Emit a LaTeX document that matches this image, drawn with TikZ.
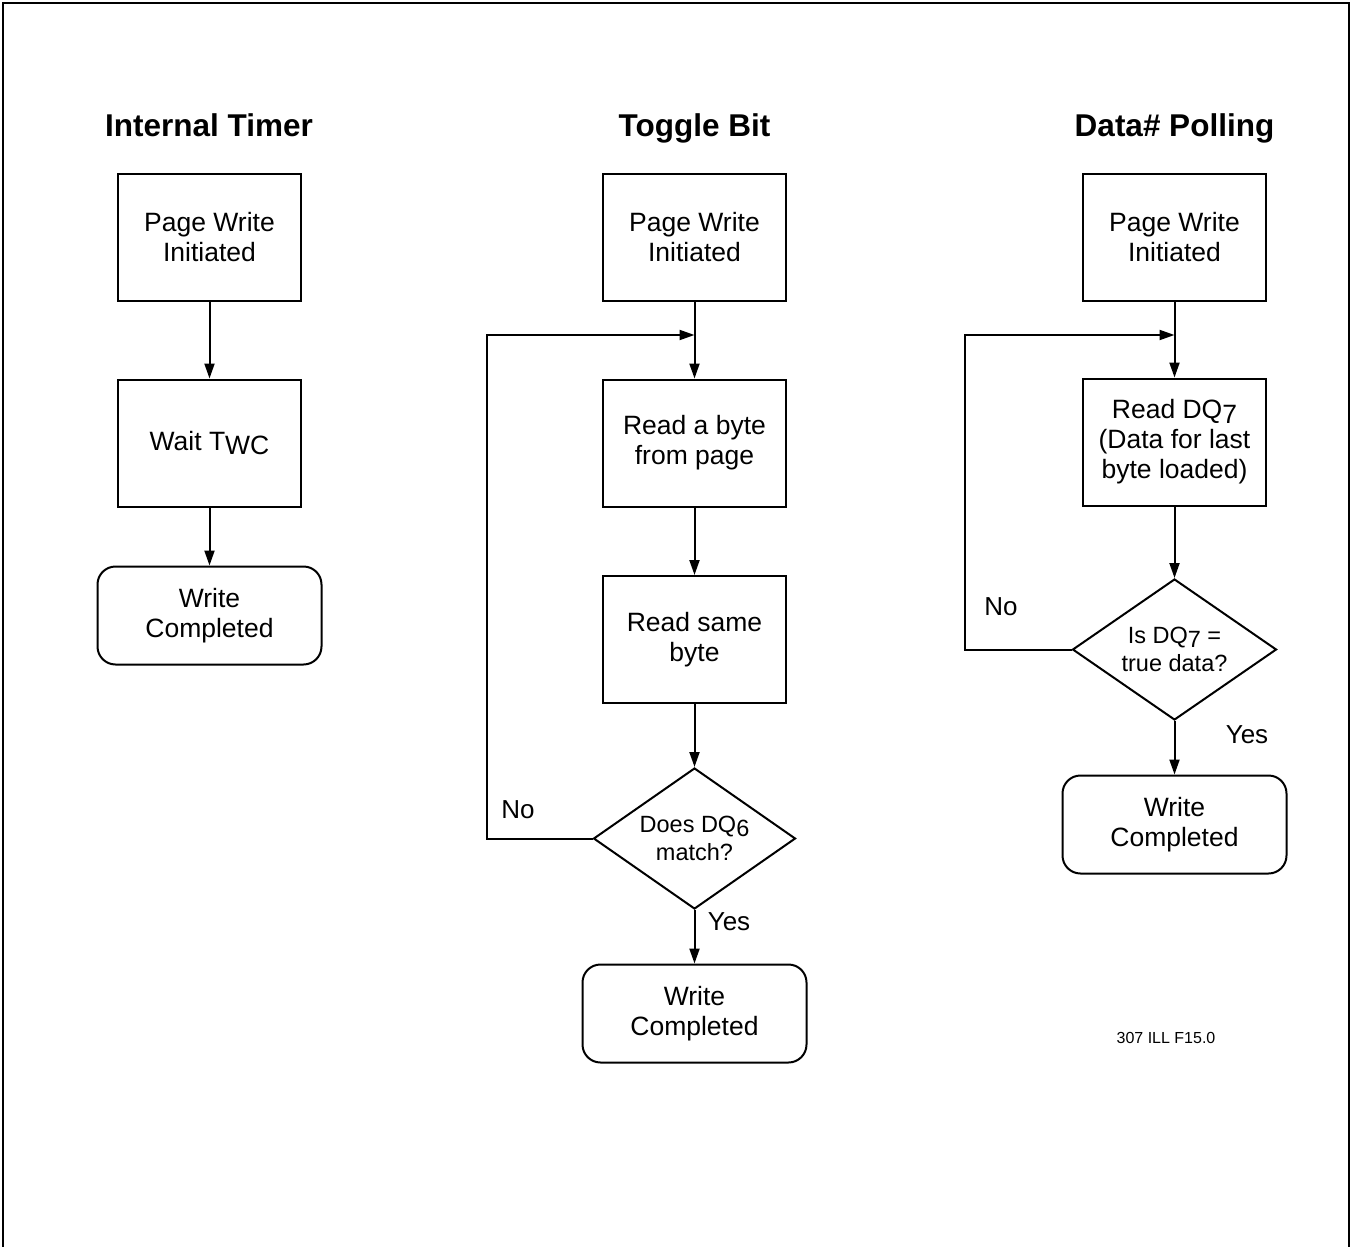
\documentclass[tikz,border=0pt]{standalone}
\usepackage{fontspec}
\setmainfont{Liberation Sans}
\usetikzlibrary{arrows.meta,shapes.geometric}
\begin{document}
\begin{tikzpicture}[x=1pt,y=-1pt,
  every node/.style={font=\fontsize{26.5}{30}\selectfont, align=center},
  stepbox/.style={draw, line width=2pt, minimum width=183pt, minimum height=127pt, inner sep=0pt},
  endbox/.style={draw, line width=2pt, rounded corners=18pt, minimum width=224pt, minimum height=98pt, inner sep=0pt},
  decide/.style={draw, diamond, line width=2pt, aspect=1.43, inner sep=0pt, font=\fontsize{23.5}{28}\selectfont},
  ttl/.style={font=\fontsize{31.5}{34}\bfseries\selectfont, anchor=base},
  lbl/.style={font=\fontsize{26}{30}\selectfont, inner sep=0pt},
  arr/.style={line width=2pt, -{Triangle[length=15pt,width=10pt]}},
  ln/.style={line width=2pt}]
\useasboundingbox (0,0) rectangle (1352,1247);
\draw[line width=2.4pt] (3,1247) -- (3,3) -- (1349,3) -- (1349,1247);
\newcommand{\dn}[1]{\raisebox{-0.35ex}{#1}}
% Internal Timer
\node[ttl] (t1) at (209,136) {Internal Timer};
\node[stepbox] (a1) at (209.5,237.5) {Page Write\\Initiated};
\node[stepbox] (a2) at (209.5,443) {Wait T\dn{WC}};
\node[endbox] (a3) at (209.5,615.5) {Write\\Completed};
\draw[arr] (a1) -- (a2);
\draw[arr] (a2) -- (a3);
% Toggle Bit
\node[ttl] (t2) at (694.5,136) {Toggle Bit};
\node[stepbox] (b1) at (694.5,237.5) {Page Write\\Initiated};
\node[stepbox] (b2) at (694.5,443) {Read a byte\\from page};
\node[stepbox] (b3) at (694.5,639.5) {Read same\\byte};
\node[decide, minimum width=202pt, minimum height=141pt] (b4) at (694.5,838.5) {Does DQ\dn{6}\\match?};
\node[endbox] (b5) at (694.5,1013.5) {Write\\Completed};
\coordinate (bj) at (694.5,335);
\coordinate (bl) at (487,335);
\draw[arr] (b1) -- (b2);
\draw[arr] (b2) -- (b3);
\draw[arr] (b3) -- (b4);
\draw[arr] (b4) -- (b5);
\draw[arr] (b4.west) -| (bl) -- (bj);
\node[lbl] (bno) at (518,810) {No};
\node[lbl] (byes) at (729,922) {Yes};
% Data# Polling
\node[ttl] (t3) at (1174.5,136) {Data\# Polling};
\node[stepbox] (c1) at (1174.5,237.5) {Page Write\\Initiated};
\node[stepbox] (c2) at (1174.5,442) {Read DQ\dn{7}\\(Data for last\\byte loaded)};
\node[decide, minimum width=204pt, minimum height=141pt] (c3) at (1174.5,649.5) {Is DQ\dn{7} =\\true data?};
\node[endbox] (c4) at (1174.5,824.5) {Write\\Completed};
\coordinate (cj) at (1174.5,335);
\coordinate (cl) at (965,335);
\draw[arr] (c1) -- (c2);
\draw[arr] (c2) -- (c3);
\draw[arr] (c3) -- (c4);
\draw[arr] (c3.west) -| (cl) -- (cj);
\node[lbl] (cno) at (1001,607) {No};
\node[lbl] (cyes) at (1247,735) {Yes};
\node[font=\fontsize{16}{18}\selectfont] (code) at (1166,1038) {307 ILL F15.0};
\end{tikzpicture}
\end{document}
